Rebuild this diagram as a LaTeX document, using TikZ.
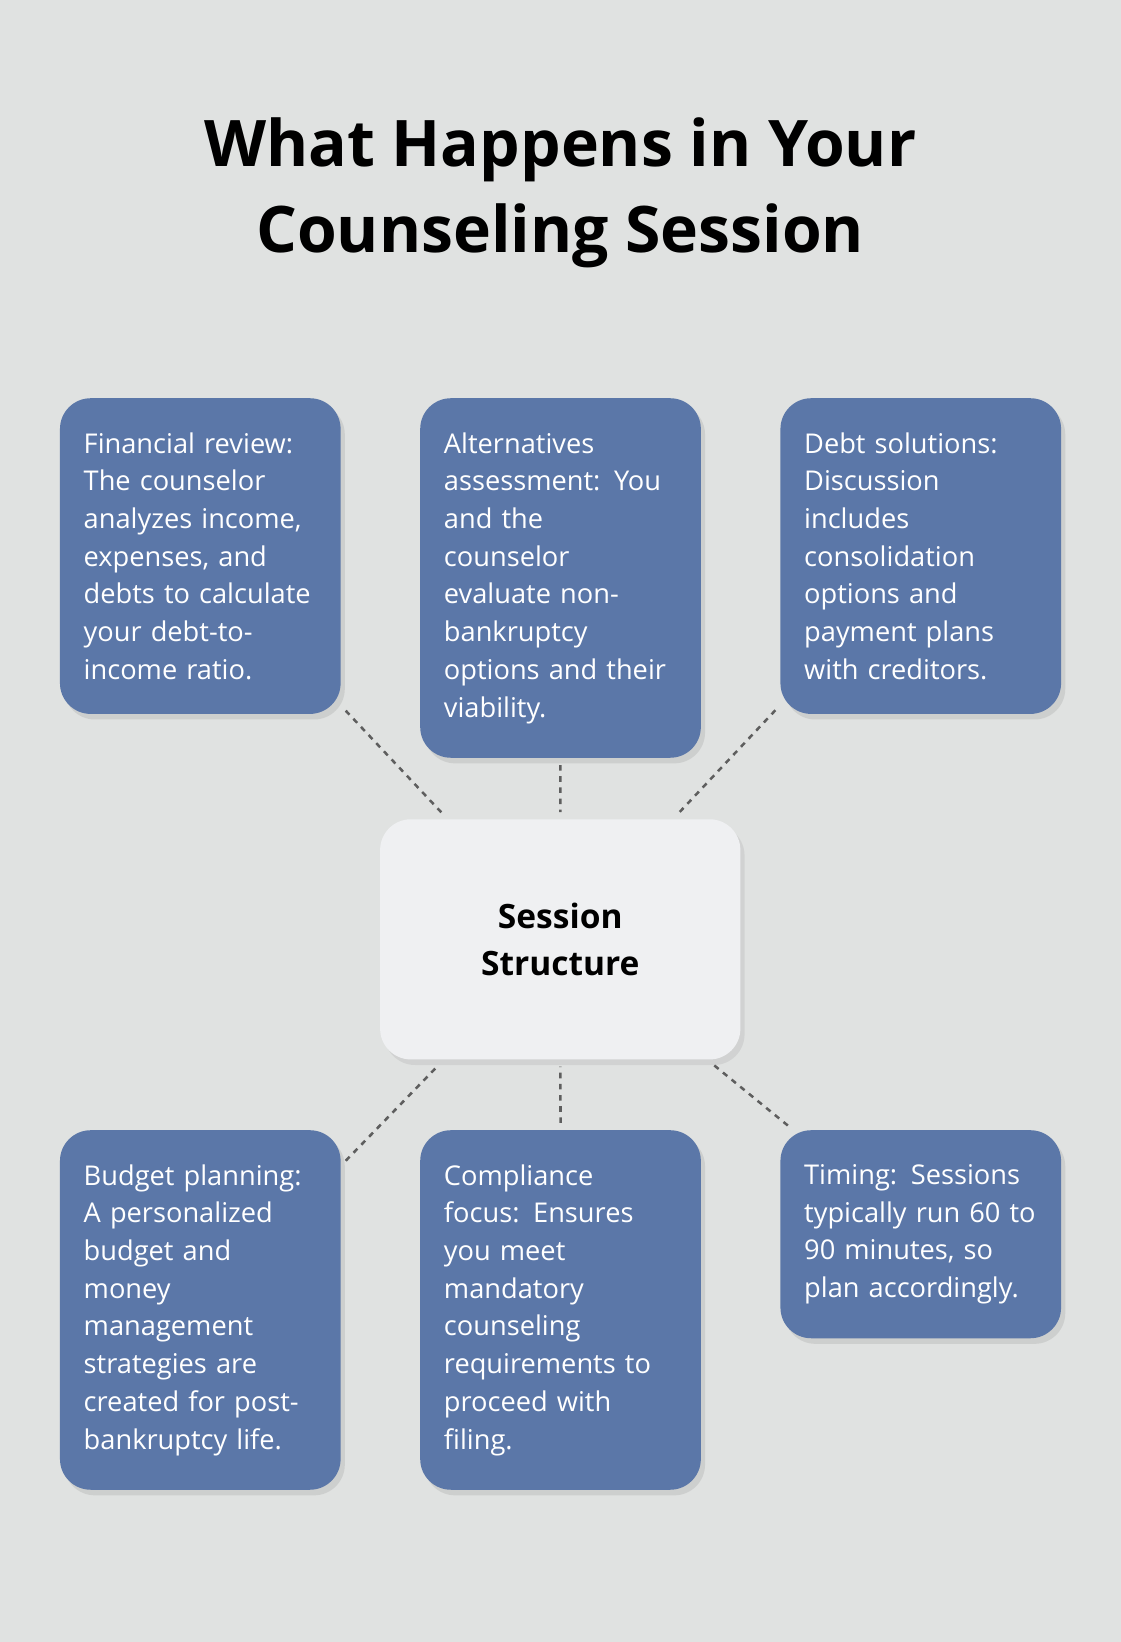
\documentclass[tikz,border=0pt]{standalone}
\usepackage{fontspec}
\setmainfont{Open Sans}
\usetikzlibrary{shadows}
\definecolor{bgcol}{HTML}{E0E2E1}
\definecolor{boxblue}{HTML}{5B77A8}
\definecolor{ctrfill}{HTML}{EFF0F2}
\definecolor{linkgray}{HTML}{5E5E5E}
\tikzset{
  stepbox/.style={anchor=north west, fill=boxblue, text=white, rounded corners=22pt,
    inner xsep=17pt, inner ysep=24.5pt, text width=167pt, align=left,
    font=\fontsize{19.5}{27}\selectfont,
    drop shadow={shadow xshift=3pt, shadow yshift=-4pt, opacity=0.15, fill=black!60}},
  hub/.style={fill=ctrfill, rounded corners=22pt, minimum width=258pt, minimum height=172pt,
    align=center, font=\bfseries\fontsize{24}{34}\selectfont,
    drop shadow={shadow xshift=3pt, shadow yshift=-4pt, opacity=0.12, fill=black!60}},
  link/.style={linkgray, line width=1.8pt, dash pattern=on 4pt off 4pt, shorten <=5pt, shorten >=5pt}
}
\begin{document}
\begin{tikzpicture}[x=0.75pt,y=-0.75pt]
  \fill[bgcol] (0,0) rectangle (1070,1568);
  \useasboundingbox (0,0) rectangle (1070,1568);

  \node[align=center, font=\bfseries\fontsize{46}{61.5}\selectfont] (title) at (535,184)
    {What Happens in Your\\Counseling Session};

  \node[hub] (ctr) at (535,897) {Session\\Structure};

  \node[stepbox] (fin) at (57,380) {Financial review:\\The counselor\\analyzes income,\\expenses, and\\debts to calculate\\your debt-to-\\income ratio.};
  \node[stepbox] (alt) at (401,380) {Alternatives\\assessment: You\\and the\\counselor\\evaluate non-\\bankruptcy\\options and their\\viability.};
  \node[stepbox] (debt) at (745,380) {Debt solutions:\\Discussion\\includes\\consolidation\\options and\\payment plans\\with creditors.};
  \node[stepbox] (bud) at (57,1079) {Budget planning:\\A personalized\\budget and\\money\\management\\strategies are\\created for post-\\bankruptcy life.};
  \node[stepbox] (comp) at (401,1079) {Compliance\\focus: Ensures\\you meet\\mandatory\\counseling\\requirements to\\proceed with\\filing.};
  \node[stepbox] (time) at (745,1079) {Timing: Sessions\\typically run 60 to\\90 minutes, so\\plan accordingly.};

  \draw[link] (fin) -- (ctr);
  \draw[link] (alt) -- (ctr);
  \draw[link] (debt) -- (ctr);
  \draw[link] (bud) -- (ctr);
  \draw[link] (comp.north) -- (ctr);
  \draw[link] (time) -- (ctr);
\end{tikzpicture}
\end{document}
